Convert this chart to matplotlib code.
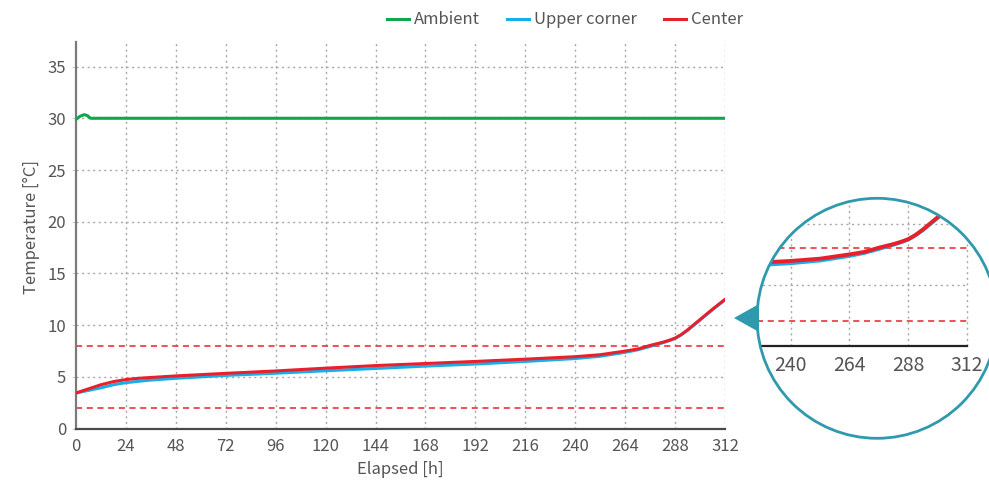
import matplotlib
matplotlib.use("Agg")
import matplotlib.pyplot as plt
from matplotlib.patches import Circle, Polygon
from matplotlib.lines import Line2D

plt.rcParams['font.family'] = ['Noto Sans CJK JP', 'DejaVu Sans']

# ---- data ----
amb_h = [0, 2, 4, 5.5, 7, 312]
amb_t = [29.9, 30.2, 30.35, 30.25, 30.0, 30.0]

upper_h = [0, 3, 6, 9, 12, 18, 24, 30, 36, 48, 72, 96, 120, 144, 168, 192, 216, 240, 252, 264, 270, 276, 282, 285, 288, 291, 294, 300, 306, 312]
upper_t = [3.45, 3.58, 3.7, 3.83, 3.95, 4.25, 4.45, 4.58, 4.7, 4.87, 5.15, 5.36, 5.6, 5.82, 6.05, 6.25, 6.5, 6.78, 7.0, 7.38, 7.62, 7.95, 8.3, 8.5, 8.72, 9.08, 9.5, 10.5, 11.5, 12.45]

center_h = [0, 3, 6, 9, 12, 18, 24, 30, 36, 48, 72, 96, 120, 144, 168, 192, 216, 240, 252, 264, 270, 276, 282, 285, 288, 291, 294, 300, 306, 312]
center_t = [3.45, 3.65, 3.85, 4.05, 4.25, 4.55, 4.75, 4.87, 4.95, 5.1, 5.35, 5.58, 5.85, 6.1, 6.3, 6.5, 6.72, 6.96, 7.15, 7.5, 7.7, 8.05, 8.35, 8.53, 8.75, 9.1, 9.55, 10.55, 11.55, 12.5]

limits = [8, 2]
x_ticks = list(range(0, 313, 24))
y_ticks = [0, 5, 10, 15, 20, 25, 30, 35]
inset_ticks = [240, 264, 288, 312]

GREEN = '#10a64a'
BLUE = '#17aeea'
RED = '#e8202b'
TEAL = '#2f99ad'
GRID = '#a8a8a8'
TXT = '#555555'

W, H = 989, 483
fig = plt.figure(figsize=(W / 100, H / 100), dpi=100)

def fx(px):
    return px / W

def fy(py):
    return 1 - py / H

ax = fig.add_axes([fx(76), fy(428.7), fx(725) - fx(76), fy(41.7) - fy(428.7)])
ax.set_xlim(0, 312)
ax.set_ylim(0, 37.4)
for s in ['top', 'right']:
    ax.spines[s].set_visible(False)
ax.spines['left'].set_color('#7a7a7a')
ax.spines['left'].set_linewidth(1.6)
ax.spines['bottom'].set_color('#4a4a4a')
ax.spines['bottom'].set_linewidth(1.6)

for xv in x_ticks[1:]:
    ax.axvline(xv, color=GRID, lw=1, ls=(0, (1.5, 2.5)), zorder=1)
for yv in y_ticks[1:]:
    ax.axhline(yv, color=GRID, lw=1, ls=(0, (1.5, 2.5)), zorder=1)
for yv in limits:
    ax.axhline(yv, color=RED, lw=1.1, ls=(0, (4, 3)), zorder=2)

ax.plot(amb_h, amb_t, color=GREEN, lw=2.2, zorder=3, label='Ambient')
ax.plot(upper_h, upper_t, color=BLUE, lw=2.2, zorder=3, label='Upper corner')
ax.plot(center_h, center_t, color=RED, lw=2.2, zorder=4, label='Center')

ax.set_xticks(x_ticks)
ax.set_yticks(y_ticks)
ax.tick_params(axis='x', length=0, pad=7, labelsize=12, labelcolor=TXT)
ax.tick_params(axis='y', length=3, color='#cccccc', pad=4, labelsize=12, labelcolor=TXT)
ax.set_xlabel('Elapsed [h]', fontsize=12, color=TXT)
ax.set_ylabel('Temperature [°C]', fontsize=12, color=TXT)
ax.xaxis.set_label_coords(0.5, (428.7 - 461) / (428.7 - 41.7))
ax.yaxis.set_label_coords((40 - 76) / (725 - 76), (428.7 - 227) / (428.7 - 41.7))

handles = [Line2D([], [], color=GREEN, lw=2.2), Line2D([], [], color=BLUE, lw=2.2), Line2D([], [], color=RED, lw=2.2)]
fig.legend(handles, ['Ambient', 'Upper corner', 'Center'], loc='center', bbox_to_anchor=(fx(565), fy(20)),
           ncol=3, frameon=False, fontsize=12, handlelength=1.35, handletextpad=0.3, columnspacing=1.6,
           labelcolor=TXT)

# ---- inset (magnified view) ----
cx, cy, r = 877, 318.3, 120
iax = fig.add_axes([fx(cx - r), fy(cy + r), fx(2 * r), fy(cy - r) - fy(cy + r)])
iax.set_xlim(226.24, 324.24)
iax.set_ylim(-7.61, 12.11)
iax.axis('off')
circ = Circle((0.5, 0.5), 0.5, transform=iax.transAxes, facecolor='white', edgecolor='none', zorder=0)
iax.add_patch(circ)

clip = Circle((0.5, 0.5), 0.5, transform=iax.transAxes)
arts = []
for xv in inset_ticks:
    arts += iax.plot([xv, xv], [0, 12.11], color=GRID, lw=1, ls=(0, (1.5, 2.5)), zorder=1)
for yv in [5, 10]:
    arts += iax.plot([226.24, 312], [yv, yv], color=GRID, lw=1, ls=(0, (1.5, 2.5)), zorder=1)
for yv in limits:
    arts += iax.plot([226.24, 312], [yv, yv], color=RED, lw=1.1, ls=(0, (4, 3)), zorder=2)
arts += iax.plot([226.24, 312], [0, 0], color='#222222', lw=1.6, zorder=2)
arts += iax.plot(upper_h, upper_t, color=BLUE, lw=2.8, zorder=3)
arts += iax.plot(center_h, center_t, color=RED, lw=2.8, zorder=4)
for a in arts:
    a.set_clip_path(clip)
for xv in inset_ticks:
    iax.text(xv, -1.65, str(xv), ha='center', va='center', fontsize=14, color=TXT, zorder=5)

ring = Circle((0.5, 0.5), 0.5, transform=iax.transAxes, facecolor='none', edgecolor=TEAL, lw=2.0, zorder=6, clip_on=False)
iax.add_patch(ring)

tri = Polygon([[fx(734), fy(318)], [fx(759), fy(304)], [fx(759), fy(332)]], closed=True,
              transform=fig.transFigure, facecolor=TEAL, edgecolor='none')
fig.patches.append(tri)

fig.savefig('out.png', dpi=100)
